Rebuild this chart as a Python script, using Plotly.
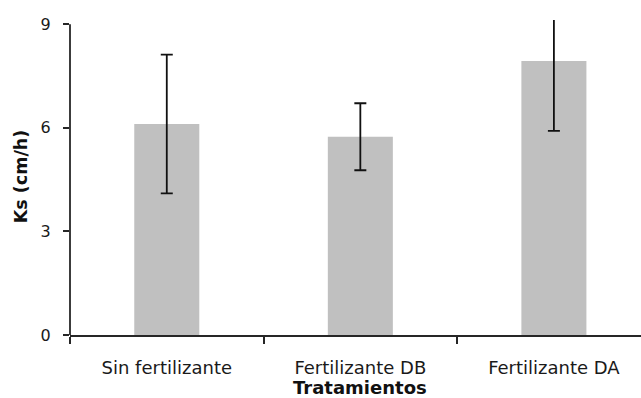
import plotly.graph_objects as go

# Saturated hydraulic conductivity by treatment
tratamientos = ["Sin fertilizante", "Fertilizante DB", "Fertilizante DA"]
ks_media = [6.11, 5.74, 7.93]
ks_error = [2.01, 0.97, 2.02]
y_ticks = [0, 3, 6, 9]

FONT = "DejaVu Sans"
AXIS_COLOR = "#262626"
TEXT_COLOR = "#1a1a1a"

fig = go.Figure()
fig.add_trace(go.Bar(
    x=tratamientos,
    y=ks_media,
    marker=dict(color="#c0c0c0", line=dict(width=0)),
    error_y=dict(type="data", array=ks_error, visible=True,
                 color="#111111", thickness=1.8, width=6),
    showlegend=False,
))

# y-axis line stops at the top tick (9) while the plot area reaches a bit higher
fig.add_shape(type="line", xref="paper", yref="y",
              x0=0, x1=0, y0=0, y1=y_ticks[-1],
              line=dict(color=AXIS_COLOR, width=1.8), layer="above")

# axis titles
fig.add_annotation(text="<b>Tratamientos</b>", xref="x", yref="paper",
                   x=tratamientos[1], y=-0.168, xanchor="center", yanchor="middle",
                   showarrow=False, font=dict(family=FONT, size=18, color="#111111"))
fig.add_annotation(text="<b>Ks (cm/h)</b>", xref="paper", yref="paper",
                   x=-0.0858, y=0.504, xanchor="center", yanchor="middle",
                   textangle=-90, showarrow=False,
                   font=dict(family=FONT, size=17.5, color="#111111"))

fig.update_layout(
    width=641, height=398,
    margin=dict(l=70, r=0, t=20, b=62.5),
    plot_bgcolor="white", paper_bgcolor="white",
    bargap=0.664,
    font=dict(family=FONT, size=16, color=TEXT_COLOR),
    xaxis=dict(
        type="category",
        range=[-0.5, 2.45],
        showline=True, linecolor=AXIS_COLOR, linewidth=1.8,
        ticks="outside", tickson="boundaries", ticklen=7,
        tickcolor=AXIS_COLOR, tickwidth=1.5,
        ticklabelstandoff=15,
        tickfont=dict(family=FONT, size=18, color=TEXT_COLOR),
        showgrid=False, zeroline=False,
    ),
    yaxis=dict(
        range=[0, 9.12],
        tickvals=y_ticks,
        showline=False,
        ticks="outside", ticklen=6, tickcolor=AXIS_COLOR, tickwidth=1.5,
        ticklabelstandoff=9,
        tickfont=dict(family=FONT, size=16, color=TEXT_COLOR),
        showgrid=False, zeroline=False,
    ),
)

fig.write_html("out.html")
